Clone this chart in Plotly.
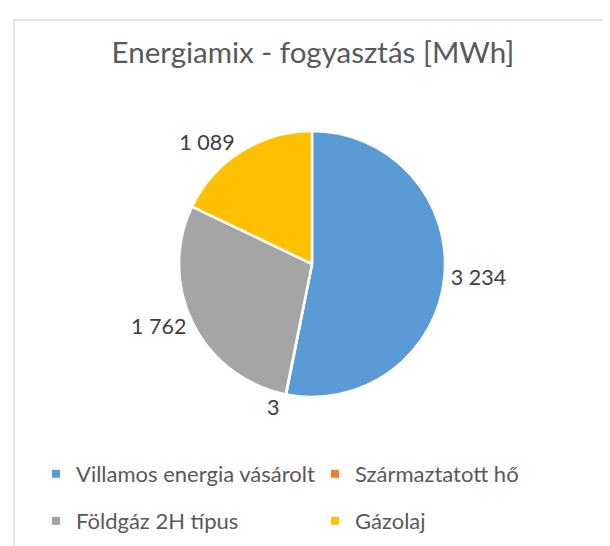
import plotly.graph_objects as go

title_text = "Energiamix - fogyasztás [MWh]"
categories = ["Villamos energia vásárolt", "Származtatott hő", "Földgáz 2H típus", "Gázolaj"]
values = [3234, 3, 1762, 1089]
colors = ["#5B9BD5", "#ED7D31", "#A5A5A5", "#FFC000"]

FONT = "Lato, 'Open Sans', sans-serif"
W, H = 610, 546

fig = go.Figure()
fig.add_trace(go.Pie(
    labels=categories, values=values, sort=False, direction="clockwise", rotation=0,
    marker=dict(colors=colors, line=dict(color="white", width=2.5)),
    textposition="outside", texttemplate="%{value:,}",
    textfont=dict(size=21.5, color="#404040", family=FONT),
    showlegend=False, hoverinfo="label+value",
    domain=dict(x=[171 / W, 437 / W], y=[1 - 389 / H, 1 - 123 / H]),
))

for i, cat in enumerate(categories):
    fig.add_trace(go.Scatter(
        x=[None], y=[None], mode="markers", name=cat,
        marker=dict(symbol="square", size=8, color=colors[i]),
        legend="legend" if i < 2 else "legend2", showlegend=True,
    ))

leg_common = dict(orientation="h", xanchor="left", yanchor="middle",
                  entrywidth=234, entrywidthmode="pixels",
                  font=dict(family=FONT, size=22, color="#595959"),
                  bgcolor="rgba(0,0,0,0)", itemclick=False)

fig.update_layout(
    width=W, height=H,
    margin=dict(l=0, r=0, t=0, b=0),
    paper_bgcolor="white", plot_bgcolor="white",
    separators=", ",
    title=dict(text=title_text, x=0.5, xanchor="center", y=1 - 45 / H, yanchor="middle",
               yref="container", font=dict(family=FONT, size=29.5, color="#595959")),
    xaxis=dict(visible=False), yaxis=dict(visible=False),
    legend=dict(x=28 / W, y=1 - 466 / H, **leg_common),
    legend2=dict(x=28 / W, y=1 - 513 / H, **leg_common),
    shapes=[dict(type="rect", xref="paper", yref="paper",
                 x0=6 / W, x1=1.05, y0=-0.05, y1=1 - 12 / H,
                 line=dict(color="#D9D9D9", width=1.3), fillcolor="rgba(0,0,0,0)")],
)

fig.write_html("out.html")
